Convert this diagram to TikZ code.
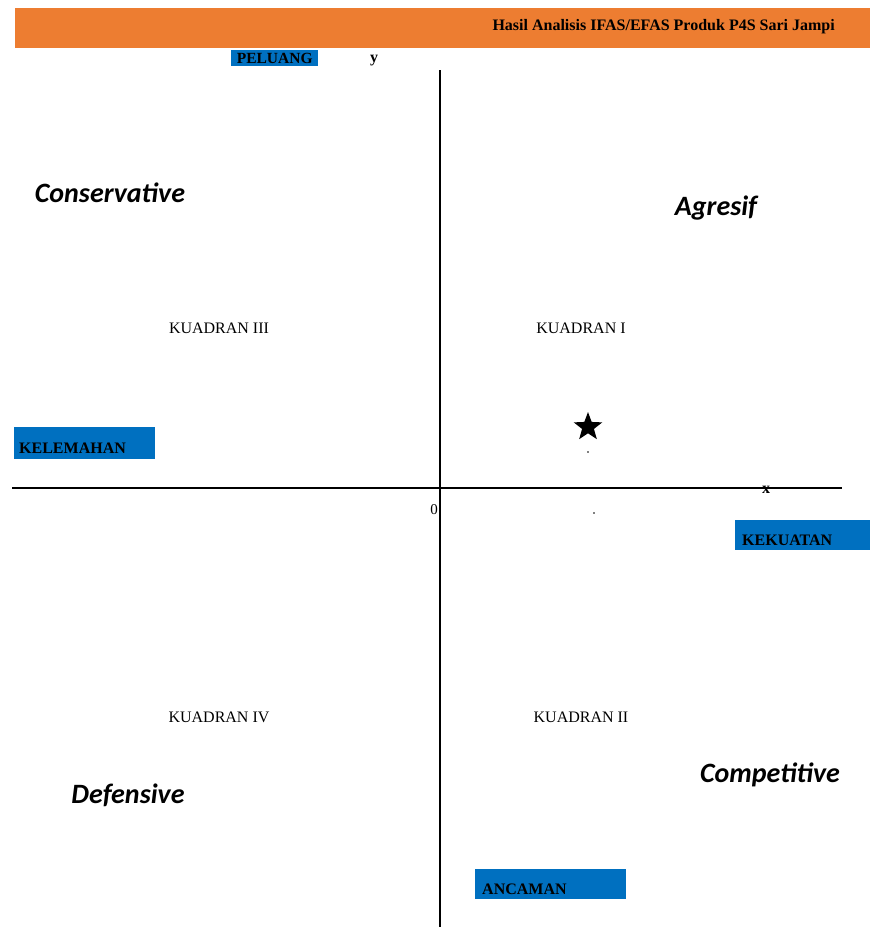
\documentclass[tikz,border=0pt]{standalone}
\usepackage{fontspec}
\setmainfont{Liberation Serif}
\newfontfamily\calibrifont{Carlito}
\usetikzlibrary{shapes.geometric}
\definecolor{barorange}{HTML}{ED7D31}
\definecolor{boxblue}{HTML}{0070C0}
\tikzset{
    labelbox/.style={fill=boxblue, inner sep=0pt, anchor=north west},
    boxtext/.style={font=\bfseries\fontsize{16}{18}\selectfont, inner sep=0pt, anchor=base west},
    quadtext/.style={font=\fontsize{16}{18}\selectfont, inner sep=0pt},
    strategy/.style={font=\calibrifont\bfseries\itshape\fontsize{28}{32}\selectfont, inner sep=0pt}
}

\begin{document}
\begin{tikzpicture}[x=1pt, y=-1pt]
                \useasboundingbox (0, 0) rectangle (870, 927);
                \fill [barorange] (15, 8) rectangle (870, 48);
                \node [font=\bfseries\fontsize{16}{18}\selectfont, inner sep=0pt, anchor=east] (title) at (835, 27) {Hasil Analisis IFAS/EFAS Produk P4S Sari Jampi};
                % axes
                \coordinate (ytop) at (440, 70);
                \coordinate (ybot) at (440, 927);
                \coordinate (xleft) at (12, 488);
                \coordinate (xright) at (842, 488);
                \draw [line width=1.8pt] (ytop) -- (ybot);
                \draw [line width=1.8pt] (xleft) -- (xright);
                \node [font=\bfseries\fontsize{16}{18}\selectfont, inner sep=0pt] (ylabel) at (374, 61) {y};
                \node [font=\bfseries\fontsize{16}{18}\selectfont, inner sep=0pt] (xlabel) at (766, 490) {x};
                \node [font=\fontsize{15}{17}\selectfont, inner sep=0pt] (origin) at (434, 510) {0};
                % boxes with the four factor names
                \node [labelbox, minimum width=87pt, minimum height=16pt] (peluang) at (231, 50) {};
                \node [font=\bfseries\fontsize{15.5}{17}\selectfont, inner sep=0pt] at (peluang.center) {PELUANG};
                \node [labelbox, minimum width=141pt, minimum height=32pt] (kelemahan) at (14, 427) {};
                \node [boxtext] at ([shift={(5pt, 6pt)}]kelemahan.south west) {KELEMAHAN};
                \node [labelbox, minimum width=135pt, minimum height=30pt] (kekuatan) at (735, 520) {};
                \node [boxtext] at ([shift={(7pt, 5pt)}]kekuatan.south west) {KEKUATAN};
                \node [labelbox, minimum width=151pt, minimum height=30pt] (ancaman) at (475, 869) {};
                \node [boxtext] at ([shift={(7pt, 5pt)}]ancaman.south west) {ANCAMAN};
                % quadrants
                \node [quadtext] (kuadran3) at (219, 328) {KUADRAN III};
                \node [quadtext] (kuadran1) at (581, 328) {KUADRAN I};
                \node [quadtext] (kuadran4) at (219, 717) {KUADRAN IV};
                \node [quadtext] (kuadran2) at (581, 717) {KUADRAN II};
                \node [strategy] (conservative) at (110, 193) {Conservative};
                \node [strategy] (agresif) at (716, 208) {Agresif};
                \node [strategy] (competitive) at (770, 775) {Competitive};
                \node [strategy] (defensive) at (128, 795) {Defensive};
                % position point
                \node [star, star points=5, star point ratio=2.4, fill=black, inner sep=0pt, minimum size=30pt] (pos) at (588, 427) {};
                \fill (588, 452) circle (0.8pt);
                \fill (594, 513) circle (0.8pt);
            \end{tikzpicture}
\end{document}
